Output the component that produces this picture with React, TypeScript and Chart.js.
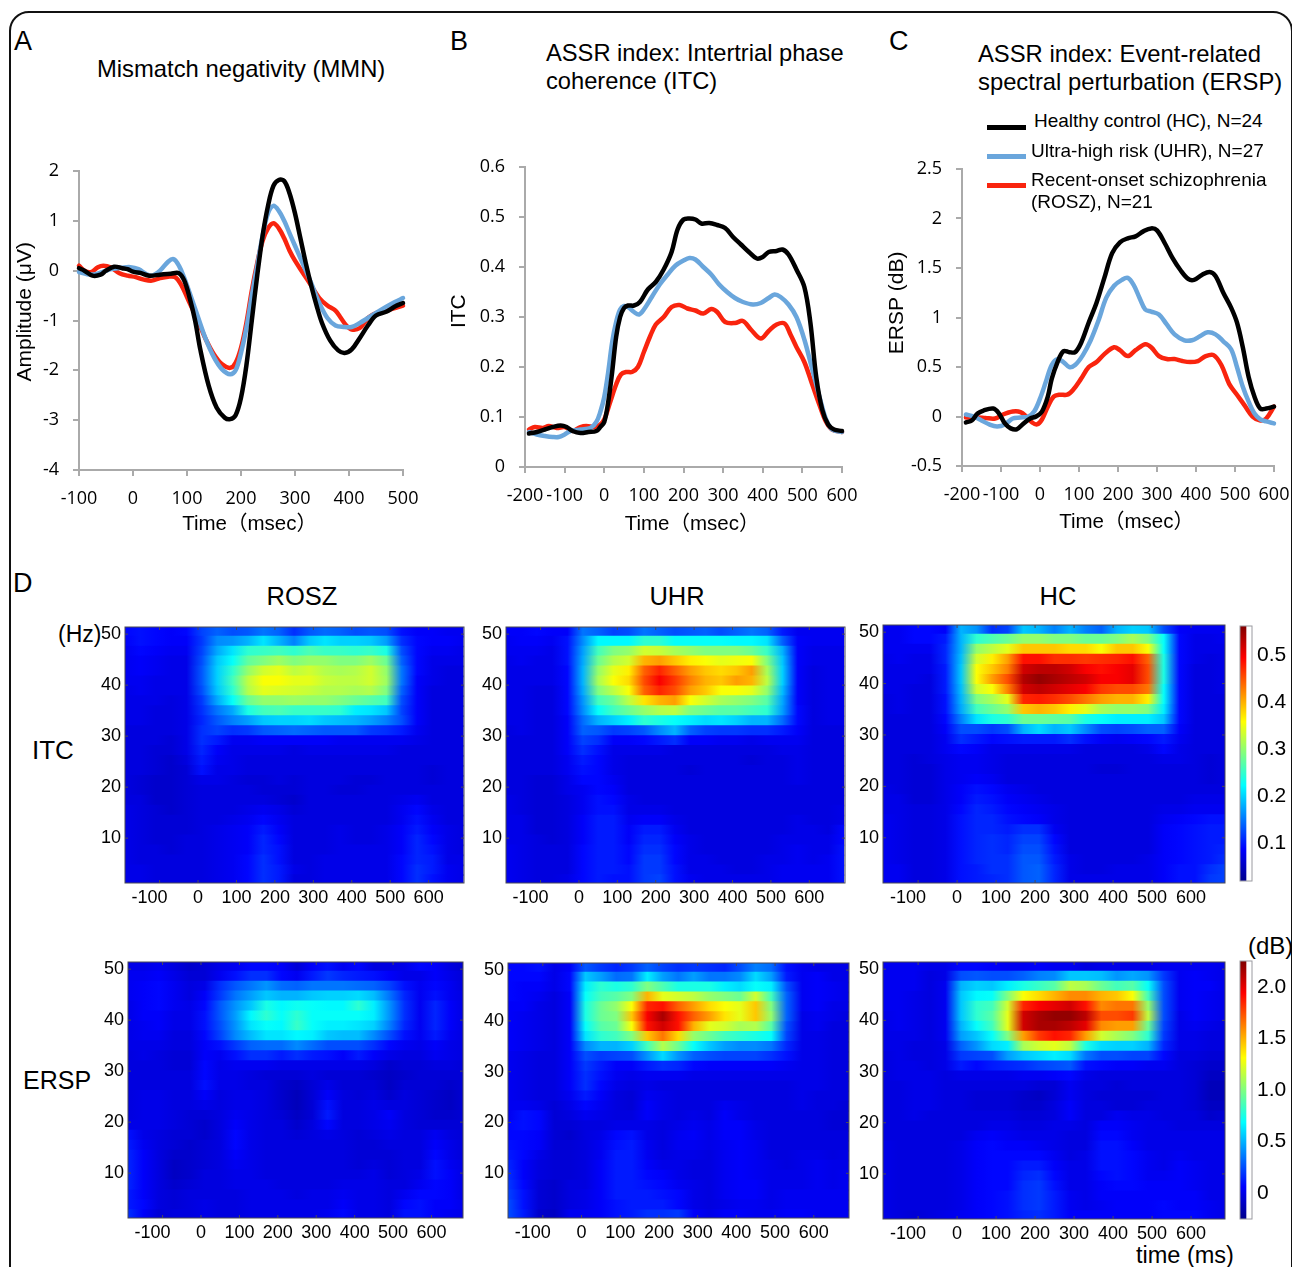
import React, { useEffect, useRef } from "react";
import { Chart, registerables } from "chart.js";

Chart.register(...registerables);

// ---------- line chart data ----------
const mmnBlackT = [-100,-90,-75,-60,-50,-35,-20,-10,0,15,30,50,70,85,95,105,115,125,140,155,170,180,190,200,210,220,230,240,250,260,270,280,290,300,310,320,330,340,350,365,380,392,405,420,435,450,470,485,500];
const mmnBlack = [0.05,0,-0.1,-0.08,0,0.08,0.05,0.03,-0.02,-0.05,-0.1,-0.08,-0.06,-0.05,-0.2,-0.55,-1.0,-1.6,-2.3,-2.75,-2.95,-2.98,-2.9,-2.55,-1.9,-1.0,-0.1,0.7,1.3,1.7,1.82,1.8,1.55,1.15,0.65,0.15,-0.3,-0.7,-1.05,-1.4,-1.6,-1.65,-1.58,-1.35,-1.1,-0.9,-0.82,-0.72,-0.65];
const mmnBlueT = [-100,-85,-70,-55,-40,-20,-5,10,25,35,50,65,75,85,95,105,120,135,150,165,180,190,200,210,220,230,240,250,260,270,280,290,300,310,320,330,345,360,375,390,405,420,435,450,470,485,500];
const mmnBlue = [-0.03,-0.07,-0.07,-0.02,0.03,0.06,0.07,0.03,-0.07,-0.1,0,0.18,0.23,0.1,-0.15,-0.45,-0.92,-1.38,-1.74,-1.98,-2.08,-2.0,-1.65,-1.15,-0.5,0.1,0.7,1.15,1.3,1.2,1.0,0.75,0.5,0.25,0,-0.25,-0.65,-0.95,-1.1,-1.13,-1.13,-1.05,-0.95,-0.85,-0.72,-0.63,-0.55];
const mmnRedT = [-100,-90,-78,-65,-55,-42,-25,-10,5,20,35,50,65,78,90,105,120,135,150,165,180,190,200,210,220,230,240,250,260,270,280,290,300,315,330,345,360,375,385,395,405,420,435,450,470,485,500];
const mmnRed = [0.1,0,-0.03,0.07,0.1,0.07,-0.05,-0.1,-0.13,-0.18,-0.2,-0.15,-0.12,-0.13,-0.3,-0.65,-1.0,-1.38,-1.68,-1.88,-1.95,-1.85,-1.55,-1.05,-0.4,0.15,0.6,0.85,0.95,0.85,0.65,0.4,0.2,-0.05,-0.3,-0.55,-0.7,-0.8,-0.95,-1.1,-1.18,-1.15,-0.95,-0.85,-0.8,-0.75,-0.7];

const itcBlackT = [-190,-170,-150,-130,-110,-95,-80,-60,-40,-20,-10,0,10,20,30,40,50,60,75,90,110,130,150,170,185,200,215,230,245,265,285,305,325,345,365,385,400,415,435,450,465,485,505,520,535,550,565,580,600];
const itcBlack = [.067,.07,.075,.08,.083,.08,.072,.068,.07,.072,.08,.09,.13,.19,.26,.30,.318,.323,.323,.33,.355,.37,.395,.43,.475,.495,.497,.495,.487,.488,.484,.478,.46,.445,.43,.417,.42,.43,.432,.435,.425,.395,.36,.29,.18,.115,.085,.075,.072];
const itcBlueT = [-190,-170,-150,-130,-115,-100,-85,-60,-35,-20,-10,0,10,20,30,40,50,60,75,88,100,120,140,160,180,200,215,230,250,270,290,310,330,350,375,395,415,430,445,465,485,505,525,545,560,575,600];
const itcBlue = [.07,.065,.062,.06,.06,.065,.072,.075,.078,.09,.11,.14,.19,.25,.29,.315,.322,.32,.31,.305,.315,.34,.365,.385,.403,.413,.418,.415,.40,.385,.365,.35,.338,.33,.325,.328,.338,.345,.34,.325,.30,.255,.195,.135,.095,.075,.07];
const itcRedT = [-190,-175,-155,-140,-120,-100,-80,-60,-45,-25,-10,0,15,30,42,55,70,85,100,115,130,150,170,190,210,230,250,270,285,305,330,350,370,395,415,435,455,470,485,505,525,545,560,575,600];
const itcRed = [.075,.08,.078,.082,.078,.08,.072,.08,.082,.08,.085,.095,.13,.165,.185,.19,.19,.2,.23,.26,.285,.30,.32,.324,.317,.313,.307,.316,.31,.29,.288,.292,.275,.257,.272,.285,.287,.265,.24,.21,.165,.12,.09,.075,.07];

const erspBlackT = [-190,-175,-160,-145,-120,-105,-90,-75,-60,-45,-25,-10,5,20,30,45,60,75,90,105,125,145,165,185,205,225,245,265,285,300,320,340,360,380,395,415,435,450,470,490,505,520,535,550,565,580,600];
const erspBlack = [-.06,-.04,.03,.06,.08,.03,-.07,-.12,-.13,-.08,-.02,0,.05,.2,.38,.55,.66,.65,.65,.74,.95,1.15,1.4,1.65,1.76,1.8,1.82,1.87,1.9,1.88,1.75,1.6,1.48,1.39,1.38,1.43,1.46,1.42,1.25,1.1,.95,.7,.4,.2,.08,.08,.1];
const erspBlueT = [-190,-170,-150,-130,-110,-90,-70,-50,-30,-15,0,15,30,45,60,75,90,110,130,150,170,190,210,225,240,255,270,285,305,325,345,370,390,410,430,450,470,490,505,520,535,550,565,580,600];
const erspBlue = [.02,0,-.04,-.08,-.1,-.08,-.02,-.01,0,.05,.18,.35,.52,.58,.55,.5,.52,.62,.77,.97,1.2,1.32,1.38,1.4,1.33,1.2,1.08,1.06,1.03,.93,.83,.77,.77,.81,.85,.83,.76,.68,.5,.3,.15,.03,-.03,-.05,-.07];
const erspRedT = [-190,-160,-140,-115,-95,-70,-50,-35,-20,-8,5,20,35,50,70,85,105,125,145,165,190,205,225,245,270,285,305,325,345,365,385,405,425,445,465,485,505,525,545,565,580,600];
const erspRed = [-.01,-.01,-.015,-.02,.02,.05,.045,0,-.06,-.08,-.03,.1,.2,.22,.22,.27,.38,.5,.55,.63,.7,.67,.61,.67,.73,.70,.61,.58,.58,.56,.55,.56,.61,.62,.52,.33,.22,.11,0,-.04,-.02,.1];

const groupLabels = ["Healthy control (HC), N=24", "Ultra-high risk (UHR), N=27", "Recent-onset schizophrenia", "(ROSZ), N=21"];

// ---------- heatmap data: colour-scale level (0-100) per frequency row (top to bottom) and time column ----------
const timeBins = [-190,-150,-110,-70,-30,10,50,90,130,170,210,250,290,330,370,410,450,490,530,570,610,650,690];
const freqBins = [50.5,48.55,46.6,44.65,42.7,40.75,38.8,36.85,34.9,32.95,31,29.05,27.1,25.15,23.2,21.25,19.3,17.35,15.4,13.45,11.5,9.55,7.6,5.65,3.7,1.75];
const timeTicks = [-100,0,100,200,300,400,500,600];
const freqTicks = [10,20,30,40,50];

const itcRosz = [
[13,14,13,12,13,19,22,20,21,24,22,17,21,23,22,20,21,20,14,12,12,11,11],
[12,14,13,12,12,18,26,27,30,35,30,25,32,35,33,33,32,28,17,13,12,12,11],
[11,13,12,11,11,19,29,35,42,43,44,42,45,43,43,42,43,40,20,13,11,11,10],
[11,12,11,10,10,20,32,38,47,50,53,50,52,52,50,50,53,48,22,13,10,10,10],
[11,12,11,10,10,21,33,42,52,58,60,56,58,55,54,55,58,52,24,13,10,9,9],
[11,11,10,10,10,21,33,44,56,62,62,60,60,57,56,56,58,53,24,12,10,9,9],
[10,11,10,10,10,20,32,42,55,60,59,58,57,55,55,54,55,50,22,12,9,9,9],
[10,10,10,9,10,18,29,38,48,52,52,53,52,52,50,48,46,44,20,12,9,9,9],
[10,10,9,9,10,17,24,29,40,44,45,43,43,43,42,36,35,32,19,12,9,9,9],
[10,10,9,9,10,16,21,25,28,32,33,33,34,32,31,30,28,25,20,12,9,9,9],
[9,9,9,9,10,17,19,17,18,21,22,23,22,21,21,21,18,17,15,11,9,9,9],
[9,9,9,8,10,17,15,11,11,12,12,12,12,12,11,11,11,11,11,10,9,9,9],
[9,9,8,8,10,16,12,10,10,10,10,9,10,10,10,10,10,10,9,9,9,9,9],
[9,9,8,7,9,15,11,10,9,9,9,9,9,9,9,9,9,9,9,9,9,9,9],
[9,9,8,7,8,14,10,10,9,9,9,9,9,9,9,9,9,9,9,9,8,9,9],
[9,8,7,7,8,10,10,9,8,8,9,8,9,9,9,8,8,9,9,9,8,9,9],
[9,8,7,7,8,9,9,9,9,8,8,8,9,9,8,8,9,9,9,9,9,9,9],
[9,9,7,7,8,9,9,9,9,9,8,7,9,9,9,9,9,9,10,11,9,9,9],
[10,9,8,7,8,9,9,9,10,11,10,8,9,9,9,9,9,9,11,13,10,9,9],
[10,9,8,8,8,9,9,10,11,13,11,9,9,9,9,9,9,9,11,14,11,9,9],
[10,9,8,8,8,9,10,11,12,15,12,9,9,9,10,9,9,10,12,15,12,10,9],
[10,9,8,8,9,9,10,11,12,16,13,9,9,9,10,9,9,10,12,16,13,10,9],
[10,9,9,8,9,9,10,11,12,16,14,9,9,9,10,10,10,10,12,16,14,10,9],
[10,9,9,9,9,9,10,11,13,17,14,9,9,10,10,10,10,10,13,16,15,10,10],
[10,10,9,9,9,9,10,11,13,17,15,10,9,10,10,10,10,10,13,17,15,11,10],
[10,10,9,9,9,9,10,11,13,17,15,9,9,10,10,10,10,10,13,17,14,11,10],
];

const itcUhr = [
[12,12,13,12,12,24,22,19,20,24,22,20,21,22,20,22,24,22,15,11,11,11,11],
[11,12,12,11,14,26,37,37,37,42,42,38,38,38,38,37,37,35,22,12,11,11,11],
[11,11,11,10,14,28,44,50,52,58,57,54,52,50,50,50,48,43,30,12,10,10,10],
[10,11,10,10,14,29,48,55,58,70,72,68,64,62,60,61,62,50,32,12,10,10,10],
[10,10,10,10,13,30,52,60,64,78,84,78,72,68,66,68,72,54,33,12,9,10,10],
[10,10,10,10,13,30,54,62,66,80,88,82,75,70,68,72,70,56,33,12,9,10,10],
[10,10,9,9,13,29,50,56,62,78,84,80,72,68,62,62,60,52,31,12,9,10,10],
[10,10,9,9,13,27,44,48,56,65,70,72,62,58,54,52,50,46,29,12,9,10,10],
[10,10,9,9,13,26,38,44,48,52,55,56,50,48,46,46,44,42,28,13,9,10,10],
[10,10,9,9,12,23,30,33,36,42,40,38,36,34,35,33,30,30,23,13,9,10,10],
[9,10,9,9,12,22,21,18,19,21,26,30,22,19,18,18,17,17,15,12,9,9,9],
[9,9,9,9,12,19,17,12,12,13,15,17,12,12,11,11,10,11,11,11,9,9,9],
[9,9,9,9,12,17,14,10,10,10,10,9,9,9,9,9,9,9,10,10,9,9,9],
[9,9,9,9,11,15,13,10,9,9,9,9,9,9,9,9,8,9,9,10,9,9,9],
[9,9,9,9,11,14,13,10,9,9,9,9,8,9,9,9,9,9,9,10,9,9,9],
[9,9,8,8,10,13,13,11,9,9,9,9,9,9,9,9,9,9,9,10,9,9,9],
[9,9,8,8,10,11,13,12,9,9,9,9,9,9,9,9,9,9,9,9,9,9,9],
[10,9,8,8,9,11,14,13,10,9,9,9,9,9,9,9,9,9,9,9,9,9,9],
[10,9,8,8,9,11,14,14,10,10,10,9,9,9,9,9,9,9,9,9,9,9,10],
[10,10,8,8,9,12,15,15,11,12,12,10,9,9,9,9,9,9,9,10,9,9,10],
[10,10,8,8,9,12,15,15,12,15,15,11,9,9,9,9,9,9,9,10,10,9,13],
[10,10,9,8,9,12,15,15,12,16,16,12,10,9,9,9,9,9,10,10,10,10,13],
[11,10,9,9,9,13,15,15,13,17,17,13,10,9,9,9,9,9,10,11,10,10,14],
[11,10,9,9,9,13,15,15,13,18,18,13,10,10,9,9,9,10,10,11,10,11,14],
[11,10,9,9,9,13,15,15,14,18,18,14,10,10,10,9,9,10,11,11,11,11,14],
[11,10,9,9,10,13,15,14,14,18,19,14,11,10,10,10,10,10,11,11,11,11,14],
];

const itcHc = [
[11,11,13,13,12,30,27,17,19,32,30,25,30,25,22,30,33,32,20,12,11,11,11],
[11,11,13,13,15,30,42,45,48,52,52,50,50,48,48,50,54,50,38,13,10,10,11],
[11,11,11,11,16,30,52,56,60,68,68,68,66,66,62,68,68,62,38,13,10,10,10],
[10,11,10,10,16,31,58,64,72,86,86,83,83,82,83,84,86,78,40,13,10,9,10],
[10,10,10,10,15,32,62,68,75,92,94,94,92,88,86,88,90,80,40,13,9,9,10],
[10,10,10,9,15,32,62,72,80,95,98,96,94,92,88,88,90,80,40,13,9,9,10],
[10,10,9,9,15,31,58,62,75,92,94,92,90,88,82,80,80,76,38,13,9,9,10],
[9,10,9,9,14,30,50,54,60,84,85,83,80,76,72,70,70,64,38,13,9,9,9],
[9,10,9,9,14,29,44,48,52,68,70,68,64,60,54,52,52,50,36,13,9,9,9],
[9,9,9,9,13,25,35,40,42,48,48,47,46,40,38,36,36,36,32,13,9,9,9],
[9,9,9,9,12,20,20,18,20,30,34,30,32,26,20,19,20,22,22,12,9,9,9],
[9,9,9,9,11,17,15,13,14,15,15,15,17,14,12,11,12,13,15,11,9,9,9],
[9,9,9,9,11,13,12,10,10,10,10,10,10,9,9,9,9,10,13,10,9,9,9],
[9,9,8,9,10,11,11,10,9,9,9,9,9,9,9,9,9,9,10,10,9,8,9],
[9,9,8,8,10,11,11,10,9,9,9,9,9,9,8,8,9,9,9,9,9,8,9],
[9,9,8,8,10,11,12,11,9,9,9,9,9,9,9,9,9,9,9,9,9,8,9],
[10,9,8,8,10,12,14,13,11,10,9,9,9,9,9,9,9,9,9,9,9,9,9],
[10,10,8,8,10,12,15,14,12,11,10,9,9,9,9,9,9,9,9,9,10,10,10],
[10,10,9,9,10,13,16,15,13,12,11,10,9,9,9,9,9,9,10,10,11,11,11],
[11,10,9,9,10,14,16,16,14,13,12,10,9,9,9,9,9,9,11,12,13,14,14],
[11,10,9,9,10,14,16,16,15,17,17,11,9,9,9,9,9,9,12,13,14,15,15],
[11,10,9,9,10,14,16,17,16,19,19,13,9,9,9,9,9,9,12,13,14,15,15],
[11,10,9,9,10,14,16,17,16,20,20,14,9,9,9,9,9,9,12,13,14,15,16],
[11,10,9,9,10,14,16,17,17,21,21,15,10,9,9,9,9,10,12,13,14,15,17],
[11,11,9,9,10,14,15,17,17,21,22,16,10,9,9,10,10,10,12,14,14,17,19],
[11,11,9,9,10,14,15,16,17,21,22,16,10,10,10,10,10,10,12,14,14,18,19],
];

const erspRosz = [
[10,10,11,9,7,8,10,11,13,13,12,8,12,14,11,13,9,9,10,13,12,9,7],
[11,11,12,10,8,8,11,14,17,17,13,11,15,18,16,15,14,12,10,10,12,10,8],
[11,12,13,11,9,10,17,21,24,27,23,22,24,24,24,23,22,19,14,11,13,11,8],
[11,12,13,11,9,12,18,24,28,32,30,30,32,33,33,34,31,24,16,11,14,11,9],
[10,12,13,11,10,13,21,27,32,40,37,39,38,37,37,42,36,27,17,11,16,12,9],
[10,12,12,10,10,14,21,28,37,42,38,42,38,38,38,38,36,27,17,11,16,12,9],
[10,11,12,10,10,14,20,27,35,38,37,43,38,36,36,35,33,25,16,11,16,12,9],
[10,11,11,9,9,13,19,26,31,35,35,37,36,32,31,31,26,20,14,11,15,11,9],
[10,10,10,9,9,12,14,18,22,23,23,26,23,20,20,20,17,13,11,10,12,10,9],
[9,10,9,8,8,12,11,14,17,17,15,17,15,14,12,15,12,10,9,9,11,10,9],
[9,9,9,8,8,13,10,11,11,11,10,10,10,10,10,10,9,7,8,8,9,9,8],
[9,9,9,9,9,13,10,10,9,8,8,8,9,8,8,8,7,6,7,8,8,8,8],
[9,9,9,9,9,14,10,10,9,9,7,6,8,10,8,8,8,6,8,8,8,7,8],
[9,10,10,9,9,12,9,10,10,9,7,5,8,12,9,8,9,7,9,8,7,6,8],
[9,10,10,9,9,10,9,10,10,9,7,5,8,14,9,9,10,9,9,8,7,6,8],
[9,10,10,9,8,8,9,11,10,9,8,6,8,15,9,9,10,12,9,8,7,7,8],
[10,10,10,9,8,7,9,12,10,9,9,7,9,13,9,9,10,11,9,8,8,8,8],
[14,10,9,8,8,7,9,13,10,9,9,8,9,10,9,8,9,10,9,9,11,9,8],
[15,11,9,8,7,8,9,13,10,9,9,9,9,9,9,8,8,9,9,9,12,10,8],
[16,12,9,7,7,8,9,12,10,9,9,9,9,9,9,8,8,8,9,9,13,10,8],
[16,12,9,6,7,8,9,11,10,9,9,9,9,9,9,8,9,8,9,9,14,11,9],
[16,12,9,6,7,9,9,10,10,9,9,9,9,9,9,9,10,8,9,10,14,12,9],
[16,12,9,7,8,9,9,10,10,10,9,9,9,9,10,10,10,9,9,11,13,12,9],
[15,12,9,8,9,9,9,9,10,10,10,9,10,10,11,10,10,9,11,13,13,12,9],
[15,13,9,8,9,10,9,9,10,10,10,10,10,10,12,10,10,9,13,14,12,12,10],
[17,12,8,9,9,10,9,9,10,10,10,10,10,11,13,10,10,9,14,14,12,11,10],
];

const erspUhr = [
[13,13,14,10,12,21,18,16,18,22,19,17,18,17,16,20,25,23,14,11,10,10,10],
[13,13,13,10,13,32,28,23,24,36,28,24,28,24,24,26,34,28,15,11,12,10,10],
[13,12,12,10,13,36,42,40,42,50,45,40,40,40,36,34,38,36,20,11,12,11,10],
[13,12,11,9,12,38,44,46,50,70,60,58,56,52,50,48,58,44,22,11,12,11,10],
[12,12,10,9,12,40,48,52,62,84,86,78,72,66,62,60,68,50,22,11,12,10,10],
[12,11,10,9,12,40,48,50,68,88,96,86,78,72,65,60,68,52,22,10,11,10,9],
[12,11,10,9,12,38,46,48,62,86,92,86,70,60,58,54,55,46,20,10,11,9,9],
[12,11,10,9,12,35,42,44,50,68,76,66,52,48,44,42,40,38,19,10,10,9,9],
[12,11,10,9,12,26,30,30,33,44,55,48,38,32,28,26,26,24,16,10,10,9,9],
[11,10,9,9,12,20,18,19,20,27,34,27,22,20,19,19,19,17,14,10,10,9,9],
[11,10,9,9,12,18,15,12,12,15,17,16,13,12,12,12,12,12,11,10,10,9,9],
[11,10,9,9,12,17,14,11,10,11,11,11,10,10,10,10,10,10,10,10,10,9,9],
[11,10,9,9,12,17,13,10,9,10,9,9,9,9,9,9,9,9,9,10,10,9,9],
[11,10,9,9,11,15,12,9,8,11,10,9,9,9,9,9,9,9,9,10,9,9,9],
[11,11,10,8,10,13,11,9,8,12,10,9,9,9,11,10,9,9,9,10,9,9,8],
[11,14,13,8,9,11,10,9,9,12,10,9,10,9,12,10,9,9,9,9,9,8,8],
[13,14,13,8,8,9,9,10,10,10,9,10,11,10,12,12,10,9,9,9,9,8,8],
[13,13,12,8,7,9,10,13,14,10,9,11,12,10,12,12,10,9,9,9,9,9,9],
[14,13,12,8,8,9,11,14,15,11,9,11,11,10,11,12,11,9,9,9,9,9,9],
[15,13,10,8,8,9,11,15,15,11,9,10,10,9,11,12,11,9,9,10,10,9,10],
[16,12,9,8,8,9,12,15,15,12,10,10,9,9,11,12,11,10,9,10,11,10,10],
[17,12,9,8,8,9,12,15,15,13,12,10,9,9,11,12,11,10,10,10,11,10,11],
[18,13,8,7,9,9,12,15,15,14,13,11,10,9,11,12,12,10,10,10,11,10,11],
[19,14,8,7,9,10,12,15,15,15,14,13,10,9,11,12,12,10,11,11,11,11,11],
[20,14,8,7,9,10,12,14,15,15,15,13,10,9,10,11,11,10,11,11,11,11,11],
[20,15,7,6,11,11,12,14,15,17,17,18,12,10,12,12,11,11,12,12,11,11,11],
];

const erspHc = [
[11,11,11,10,10,13,13,12,11,11,12,11,11,9,10,10,10,10,11,11,11,11,10],
[11,11,11,9,10,20,21,20,20,22,25,26,32,32,31,27,29,27,18,11,12,11,10],
[11,11,11,9,11,30,33,32,36,40,43,46,56,54,48,44,46,38,20,11,12,12,10],
[11,11,10,9,11,32,37,38,50,62,66,70,74,74,70,68,62,44,20,11,12,11,10],
[11,11,10,9,11,32,42,44,58,84,88,90,92,86,74,76,76,52,20,11,12,11,10],
[10,11,10,9,11,32,42,46,60,92,96,98,98,94,80,80,82,56,20,10,12,11,10],
[10,11,10,9,11,30,38,44,60,92,96,96,94,90,74,72,72,48,19,10,11,10,9],
[10,10,10,9,11,28,32,38,50,72,82,86,84,72,58,54,50,42,18,10,10,9,9],
[10,10,9,9,10,22,27,34,36,54,58,60,56,40,34,33,33,30,16,10,10,9,9],
[9,10,9,9,10,18,19,20,28,32,34,36,34,24,20,20,19,19,13,9,9,8,8],
[9,10,10,9,10,15,13,15,16,17,19,20,21,14,13,12,12,11,11,9,8,7,7],
[9,10,10,10,9,10,10,10,10,11,11,12,13,10,9,9,9,9,9,9,8,6,6],
[9,9,10,10,9,9,9,9,9,9,8,8,11,9,9,8,9,9,9,9,8,5,5],
[9,9,10,10,9,9,8,8,8,7,6,8,11,9,8,8,8,8,9,9,8,5,5],
[9,9,10,10,9,9,8,8,8,7,7,9,12,9,9,8,8,9,9,9,8,6,6],
[9,9,10,9,9,9,9,9,9,8,8,9,12,9,9,11,10,10,9,9,9,7,8],
[9,9,9,9,9,9,9,10,10,9,9,10,10,9,12,12,11,10,10,9,9,9,9],
[9,9,9,9,9,9,11,12,11,10,10,10,9,9,13,13,11,10,10,10,10,10,10],
[10,9,9,9,9,10,12,13,12,12,11,10,9,9,14,14,12,10,10,10,10,10,10],
[10,9,9,9,9,10,12,13,13,13,13,11,9,10,14,14,13,11,10,11,10,10,10],
[10,9,9,9,9,10,12,13,13,15,15,12,10,10,14,14,13,11,10,12,11,10,10],
[10,9,9,9,9,10,12,13,13,16,17,13,10,10,13,14,13,11,11,12,11,10,10],
[10,9,9,9,9,10,12,13,13,17,18,14,10,10,12,13,13,12,12,12,11,10,10],
[10,9,9,9,9,10,12,13,14,17,18,15,11,10,12,12,12,12,12,12,12,10,10],
[10,9,9,9,9,10,12,13,14,17,18,15,11,10,11,12,12,12,13,12,12,11,10],
[10,9,8,9,10,11,12,13,14,16,17,15,12,12,12,12,12,12,13,13,13,11,10],
];

const itcScale = [0.019, 0.562];
const itcScaleTicks = [0.1, 0.2, 0.3, 0.4, 0.5];
const erspScale = [-0.25, 2.25];
const erspScaleTicks = [0, 0.5, 1.0, 1.5, 2.0];

// ---------- helpers ----------
const SANS = '"Liberation Sans", Arial, sans-serif';
const CJK = '"Liberation Sans", "Noto Sans CJK JP", sans-serif';
const TICKF = '"Open Sans", sans-serif';

const jetStops: [number, number[]][] = [
  [0, [0, 0, 140]], [0.125, [0, 0, 255]], [0.375, [0, 255, 255]],
  [0.625, [255, 255, 0]], [0.875, [255, 0, 0]], [1, [128, 0, 0]],
];
function jet(level: number) {
  const v = Math.max(0, Math.min(1, level / 100));
  for (let i = 1; i < jetStops.length; i++) {
    if (v <= jetStops[i][0]) {
      const [a, ca] = jetStops[i - 1];
      const [b, cb] = jetStops[i];
      const f = (v - a) / (b - a);
      return `rgb(${ca.map((c, k) => Math.round(c + (cb[k] - c) * f)).join(",")})`;
    }
  }
  return "rgb(128,0,0)";
}

type Box = { l: number; t: number; r: number; b: number };
const fixX = (h: number) => (s: any) => { s.height = h; };
const fixY = (w: number) => (s: any) => { s.width = w; };

const framePlugin = {
  id: "frame",
  afterDraw(chart: any) {
    const { ctx, chartArea: a, scales } = chart;
    ctx.save();
    ctx.strokeStyle = "#4a4a55";
    ctx.lineWidth = 1;
    ctx.strokeRect(a.left, a.top, a.right - a.left, a.bottom - a.top);
    ctx.beginPath();
    for (const t of scales.x.ticks) {
      const p = scales.x.getPixelForValue(t.value);
      ctx.moveTo(p, a.bottom); ctx.lineTo(p, a.bottom - 3);
      ctx.moveTo(p, a.top); ctx.lineTo(p, a.top + 3);
    }
    for (const t of scales.y.ticks) {
      const p = scales.y.getPixelForValue(t.value);
      ctx.moveTo(a.left, p); ctx.lineTo(a.left + 3, p);
      ctx.moveTo(a.right, p); ctx.lineTo(a.right - 3, p);
    }
    ctx.stroke();
    ctx.restore();
  },
};

function heatConfig(rows: number[][], plot: Box, canvas: Box, xMax: number, fMin = 1.2, fMax = 51.4) {
  return {
    type: "bar",
    data: {
      datasets: [{
        data: freqBins.map((f) => ({ y: f, x: [timeBins[0], timeBins[timeBins.length - 1]] })),
        barThickness: 11,
        borderWidth: 0,
        backgroundColor: (c: any) => {
          const chart = c.chart;
          if (!chart.chartArea || c.dataIndex === undefined) return "#0000e0";
          const sx = chart.scales.x;
          const row = rows[c.dataIndex];
          const t0 = timeBins[0];
          const tN = timeBins[timeBins.length - 1];
          const g = chart.ctx.createLinearGradient(sx.getPixelForValue(t0), 0, sx.getPixelForValue(tN), 0);
          timeBins.forEach((t, i) => g.addColorStop((t - t0) / (tN - t0), jet(row[i])));
          return g;
        },
      }],
    },
    options: {
      indexAxis: "y",
      responsive: false,
      animation: false,
      devicePixelRatio: 1,
      layout: { autoPadding: false, padding: { top: plot.t - canvas.t, right: canvas.r - plot.r, left: 0, bottom: 0 } },
      plugins: { legend: { display: false }, tooltip: { enabled: false } },
      scales: {
        x: {
          type: "linear", min: -190, max: xMax,
          afterBuildTicks: (s: any) => { s.ticks = timeTicks.map((v) => ({ value: v })); },
          afterFit: fixX(canvas.b - plot.b),
          grid: { display: false, drawTicks: false }, border: { display: false },
          ticks: {
            autoSkip: false, maxRotation: 0, padding: 4, color: "#000",
            font: { family: SANS, size: 18 },
            callback: (v: any) => (v === -100 ? "-100    " : String(v)),
          },
        },
        y: {
          type: "linear", min: fMin, max: fMax, offset: false,
          afterBuildTicks: (s: any) => { s.ticks = freqTicks.map((v) => ({ value: v })); },
          afterFit: fixY(plot.l - canvas.l),
          grid: { display: false, drawTicks: false, offset: false }, border: { display: false },
          ticks: { autoSkip: false, padding: 4, color: "#000", font: { family: SANS, size: 18 }, callback: (v: any) => String(v) },
        },
      },
    },
    plugins: [framePlugin],
  };
}

function barConfig(range: number[], ticks: number[], fmt: (v: number) => string, plot: Box, canvas: Box) {
  return {
    type: "bar",
    data: {
      labels: ["scale"],
      datasets: [{
        data: [range],
        barPercentage: 1, categoryPercentage: 1, borderWidth: 0,
        backgroundColor: (c: any) => {
          const chart = c.chart;
          if (!chart.chartArea) return "#0000e0";
          const sy = chart.scales.y;
          const g = chart.ctx.createLinearGradient(0, sy.getPixelForValue(range[0]), 0, sy.getPixelForValue(range[1]));
          jetStops.forEach(([p, col]) => g.addColorStop(p, `rgb(${col.join(",")})`));
          return g;
        },
      }],
    },
    options: {
      responsive: false, animation: false, devicePixelRatio: 1,
      layout: { autoPadding: false, padding: { top: plot.t - canvas.t, bottom: canvas.b - plot.b, left: plot.l - canvas.l, right: 0 } },
      plugins: { legend: { display: false }, tooltip: { enabled: false } },
      scales: {
        x: { display: false, offset: false, grid: { display: false } },
        y: {
          position: "right", min: range[0], max: range[1],
          afterBuildTicks: (s: any) => { s.ticks = ticks.map((v) => ({ value: v })); },
          afterFit: fixY(canvas.r - plot.r),
          grid: { drawOnChartArea: false, drawTicks: false }, border: { display: false },
          ticks: { padding: 5, color: "#000", font: { family: SANS, size: 21 }, callback: (v: any) => fmt(v) },
        },
      },
    },
    plugins: [{
      id: "barFrame",
      afterDraw(chart: any) {
        const { ctx, chartArea: a } = chart;
        ctx.save(); ctx.strokeStyle = "#9a9aa0"; ctx.lineWidth = 1;
        ctx.strokeRect(a.left, a.top, a.right - a.left, a.bottom - a.top);
        ctx.restore();
      },
    }],
  };
}

function lineConfig(
  series: [number[], number[], string][],
  plot: Box, canvas: Box,
  xr: [number, number], yr: [number, number, number],
  yTitle: string, fmt: (v: number) => string,
) {
  return {
    type: "line",
    data: {
      datasets: series.map(([ts, vs, color]) => ({
        data: ts.map((t, i) => ({ x: t, y: vs[i] })),
        borderColor: color, borderWidth: 4.5, pointRadius: 0, tension: 0.35,
        borderCapStyle: "round", borderJoinStyle: "round", fill: false, clip: false,
      })),
    },
    options: {
      responsive: false, animation: false, devicePixelRatio: 1,
      layout: { autoPadding: false, padding: { top: plot.t - canvas.t, right: canvas.r - plot.r, left: 0, bottom: 0 } },
      plugins: { legend: { display: false }, tooltip: { enabled: false } },
      scales: {
        x: {
          type: "linear", min: xr[0], max: xr[1],
          afterFit: fixX(canvas.b - plot.b),
          grid: { drawOnChartArea: false, tickLength: 6, color: "#aaa", lineWidth: 2 },
          border: { color: "#aaa", width: 2 },
          title: { display: true, text: "   Time（msec）", color: "#000", font: { family: CJK, size: 20.5 }, padding: 0 },
          ticks: { stepSize: 100, autoSkip: false, maxRotation: 0, padding: 12, color: "#000", font: { family: TICKF, size: 18 }, callback: (v: any) => String(v) },
        },
        y: {
          type: "linear", min: yr[0], max: yr[1],
          afterFit: fixY(plot.l - canvas.l),
          grid: { drawOnChartArea: false, tickLength: 6, color: "#aaa", lineWidth: 2 },
          border: { color: "#aaa", width: 2 },
          title: { display: true, text: yTitle, color: "#000", font: { family: SANS, size: 21 }, padding: 0 },
          ticks: { stepSize: yr[2], autoSkip: false, padding: 14, color: "#000", font: { family: TICKF, size: 18 }, callback: (v: any) => fmt(v) },
        },
      },
    },
  };
}

function ChartBox({ canvas, make }: { canvas: Box; make: () => any }) {
  const ref = useRef<HTMLCanvasElement | null>(null);
  useEffect(() => {
    const chart = new Chart(ref.current as HTMLCanvasElement, make());
    return () => chart.destroy();
  }, []);
  return (
    <canvas
      ref={ref}
      width={canvas.r - canvas.l}
      height={canvas.b - canvas.t}
      style={{ position: "absolute", left: canvas.l, top: canvas.t, width: canvas.r - canvas.l, height: canvas.b - canvas.t }}
    />
  );
}

function Txt({ x, y, size, children, anchor }: { x: number; y: number; size: number; children: any; anchor?: string }) {
  return (
    <div style={{
      position: "absolute", left: x, top: y, fontFamily: SANS, fontSize: size, lineHeight: 1, color: "#000",
      whiteSpace: "nowrap", transform: `translate(${anchor === "c" ? "-50%" : "0"}, -50%)`,
    }}>{children}</div>
  );
}

const BLACK = "#000000";
const BLUE = "#6aa6dc";
const RED = "#f9240e";
const num1 = (v: number) => String(+v.toFixed(1));

const panels = [
  { rows: itcRosz, plot: { l: 125, t: 627, r: 464, b: 883 }, xMax: 692 },
  { rows: itcUhr, plot: { l: 506, t: 627, r: 845, b: 883 }, xMax: 693 },
  { rows: itcHc, plot: { l: 883, t: 625, r: 1225, b: 883 }, xMax: 687 },
  { rows: erspRosz, plot: { l: 128, t: 962, r: 463, b: 1218 }, xMax: 682 },
  { rows: erspUhr, plot: { l: 508, t: 963, r: 849, b: 1218 }, xMax: 691 },
  { rows: erspHc, plot: { l: 883, t: 962, r: 1225, b: 1219 }, xMax: 687 },
];

export default function App() {
  useEffect(() => { document.body.style.margin = "0"; }, []);
  const A = { plot: { l: 79, t: 171, r: 403, b: 470 }, canvas: { l: 13, t: 141, r: 440, b: 537 } };
  const B = { plot: { l: 525, t: 167, r: 842, b: 467 }, canvas: { l: 447, t: 137, r: 880, b: 537 } };
  const C = { plot: { l: 962, t: 169, r: 1274, b: 466 }, canvas: { l: 885, t: 139, r: 1310, b: 535 } };
  const barA = { plot: { l: 1240, t: 626, r: 1252, b: 881 }, canvas: { l: 1235, t: 596, r: 1292, b: 911 } };
  const barB = { plot: { l: 1240, t: 961, r: 1252, b: 1219 }, canvas: { l: 1235, t: 931, r: 1292, b: 1249 } };
  return (
    <div style={{ position: "absolute", left: 0, top: 0, width: 1292, height: 1267, overflow: "hidden", background: "#fff" }}>
      <div style={{ position: "absolute", left: 9, top: 11, width: 1280, height: 1300, border: "2px solid #111", borderRadius: 20 }} />

      <Txt x={14} y={41} size={27}>A</Txt>
      <Txt x={450} y={41} size={27}>B</Txt>
      <Txt x={889} y={41} size={27}>C</Txt>
      <Txt x={13} y={583} size={27}>D</Txt>

      <Txt x={97} y={69} size={23.8}>Mismatch negativity (MMN)</Txt>
      <Txt x={546} y={54} size={23.7}>ASSR index: Intertrial phase</Txt>
      <Txt x={546} y={82} size={23.7}>coherence (ITC)</Txt>
      <Txt x={978} y={54} size={23.8}>ASSR index: Event-related</Txt>
      <Txt x={978} y={82} size={23.8}>spectral perturbation (ERSP)</Txt>

      <ChartBox canvas={A.canvas} make={() => lineConfig(
        [[mmnBlackT, mmnBlack, BLACK], [mmnBlueT, mmnBlue, BLUE], [mmnRedT, mmnRed, RED]],
        A.plot, A.canvas, [-100, 500], [-4, 2, 1], "   Amplitude (μV)", num1)} />
      <ChartBox canvas={B.canvas} make={() => lineConfig(
        [[itcBlackT, itcBlack, BLACK], [itcBlueT, itcBlue, BLUE], [itcRedT, itcRed, RED]],
        B.plot, B.canvas, [-200, 600], [0, 0.6, 0.1], "  ITC", num1)} />
      <ChartBox canvas={C.canvas} make={() => lineConfig(
        [[erspBlackT, erspBlack, BLACK], [erspBlueT, erspBlue, BLUE], [erspRedT, erspRed, RED]],
        C.plot, C.canvas, [-200, 600], [-0.5, 2.5, 0.5], "     ERSP (dB)", num1)} />

      <div style={{ position: "absolute", left: 987, top: 125, width: 39, height: 5, background: BLACK }} />
      <div style={{ position: "absolute", left: 987, top: 154, width: 39, height: 5, background: BLUE }} />
      <div style={{ position: "absolute", left: 987, top: 183, width: 39, height: 5, background: RED }} />
      <Txt x={1034} y={120} size={19}>{groupLabels[0]}</Txt>
      <Txt x={1031} y={150} size={19}>{groupLabels[1]}</Txt>
      <Txt x={1031} y={179} size={19}>{groupLabels[2]}</Txt>
      <Txt x={1031} y={201} size={19}>{groupLabels[3]}</Txt>

      <Txt x={302} y={597} size={25.5} anchor="c">ROSZ</Txt>
      <Txt x={677} y={597} size={25.5} anchor="c">UHR</Txt>
      <Txt x={1058} y={597} size={25.5} anchor="c">HC</Txt>
      <Txt x={58} y={634} size={23}>(Hz)</Txt>
      <Txt x={32} y={750} size={26}>ITC</Txt>
      <Txt x={23} y={1080} size={25}>ERSP</Txt>
      <Txt x={1248} y={946} size={24}>(dB)</Txt>
      <Txt x={1136} y={1256} size={23.5}>time (ms)</Txt>

      {panels.map((p, i) => {
        const canvas = { l: p.plot.l - 40, t: p.plot.t - 22, r: p.plot.r + 20, b: p.plot.b + 26 };
        return <ChartBox key={i} canvas={canvas} make={() => heatConfig(p.rows, p.plot, canvas, p.xMax)} />;
      })}

      <ChartBox canvas={barA.canvas} make={() => barConfig(itcScale, itcScaleTicks, num1, barA.plot, barA.canvas)} />
      <ChartBox canvas={barB.canvas} make={() => barConfig(erspScale, erspScaleTicks, (v) => (v === 0 ? "0" : v.toFixed(1)), barB.plot, barB.canvas)} />
    </div>
  );
}
